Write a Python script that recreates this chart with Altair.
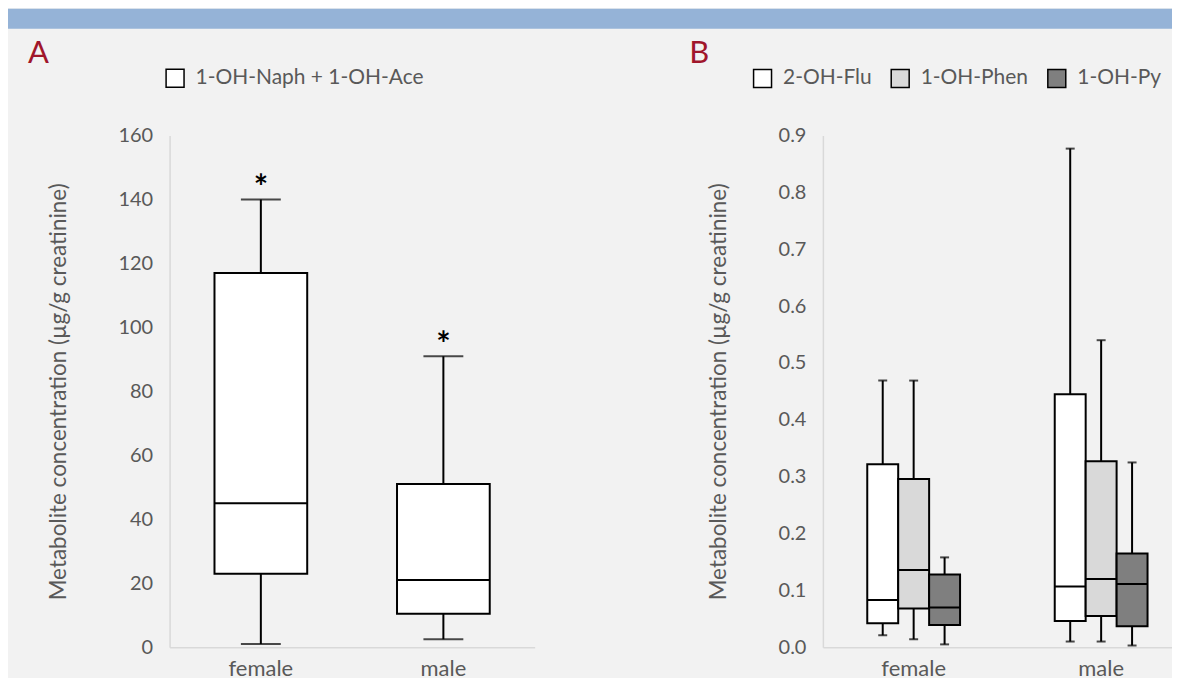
import altair as alt
import pandas as pd

FONT = "Lato"
TXT = "#595959"
AXC = "#d9d9d9"
RED = "#a0162b"

sexes = ["female", "male"]

a_series = ["1-OH-Naph + 1-OH-Ace"]
a_fill = ["#ffffff"]
a_min = [1.0, 2.5]
a_q1 = [23.0, 10.5]
a_med = [45.0, 21.0]
a_q3 = [117.0, 51.0]
a_max = [140.0, 91.0]
a_sig = ["*", "*"]
a_ticks = [0, 20, 40, 60, 80, 100, 120, 140, 160]

metabolites = ["2-OH-Flu", "1-OH-Phen", "1-OH-Py"]
b_fill = ["#ffffff", "#d9d9d9", "#7f7f7f"]
b_female_min = [0.021, 0.014, 0.005]
b_female_q1 = [0.042, 0.068, 0.039]
b_female_med = [0.083, 0.136, 0.070]
b_female_q3 = [0.322, 0.296, 0.128]
b_female_max = [0.469, 0.469, 0.158]
b_male_min = [0.010, 0.010, 0.003]
b_male_q1 = [0.046, 0.055, 0.037]
b_male_med = [0.107, 0.120, 0.111]
b_male_q3 = [0.445, 0.327, 0.165]
b_male_max = [0.877, 0.540, 0.325]
b_ticks = [0.0, 0.1, 0.2, 0.3, 0.4, 0.5, 0.6, 0.7, 0.8, 0.9]

y_title = "Metabolite concentration (µg/g creatinine)"

dfA = pd.DataFrame({
    "sex": sexes, "series": a_series * 2,
    "lo": a_min, "q1": a_q1, "med": a_med, "q3": a_q3, "hi": a_max, "sig": a_sig,
})

rows = []
for sex, mins, q1s, meds, q3s, maxs in [
    ("female", b_female_min, b_female_q1, b_female_med, b_female_q3, b_female_max),
    ("male", b_male_min, b_male_q1, b_male_med, b_male_q3, b_male_max),
]:
    for i, m in enumerate(metabolites):
        rows.append({"sex": sex, "met": m, "lo": mins[i], "q1": q1s[i],
                     "med": meds[i], "q3": q3s[i], "hi": maxs[i]})
dfB = pd.DataFrame(rows)


def y_axis(values, fmt):
    return alt.Axis(values=values, format=fmt, title=y_title, titleFont=FONT,
                    titleFontSize=22.5, titleColor=TXT, titleFontWeight="normal",
                    titlePadding=48, labelFont=FONT, labelFontSize=20, labelColor=TXT,
                    labelPadding=17, ticks=False, domain=True, domainColor=AXC,
                    domainWidth=1.5, grid=False)


x_axis = alt.Axis(title=None, labelAngle=0, labelFont=FONT, labelFontSize=22,
                  labelColor=TXT, labelPadding=11, ticks=False, domainColor=AXC,
                  domainWidth=1.5)


def legend(lx, ly):
    return alt.Legend(title=None, orient="none", legendX=lx, legendY=ly,
                      direction="horizontal", symbolType="square", symbolSize=324,
                      symbolStrokeColor="black", symbolStrokeWidth=1.5,
                      labelFont=FONT, labelFontSize=21, labelColor=TXT, labelLimit=0,
                      labelOffset=10, columnPadding=16, padding=0)


def panel_title(txt, dx):
    return alt.TitleParams(txt, anchor="start", frame="group", dx=dx, dy=2, fontSize=31,
                           font=FONT, color=RED, fontWeight="normal", offset=0)


# ---- Panel A ----
ysA = alt.Scale(domain=[0, 160], nice=False)
yaA = y_axis(a_ticks, "d")
xA = alt.X("sex:N", sort=sexes,
           scale=alt.Scale(domain=sexes, paddingInner=0.492, paddingOuter=0.246),
           axis=x_axis)
baseA = alt.Chart(dfA)
A = alt.layer(
    baseA.mark_rule(color="black", strokeWidth=2).encode(
        x=xA, y=alt.Y("lo:Q", scale=ysA, axis=yaA), y2="hi:Q"),
    baseA.mark_bar(stroke="black", strokeWidth=2).encode(
        x=xA, y=alt.Y("q1:Q", scale=ysA, axis=yaA), y2="q3:Q",
        fill=alt.Fill("series:N", scale=alt.Scale(domain=a_series, range=a_fill),
                      legend=legend(-5, -68))),
    baseA.mark_bar(stroke="black", strokeWidth=2, fillOpacity=0).encode(
        x=xA, y=alt.Y("med:Q", scale=ysA, axis=yaA), y2="med:Q"),
    baseA.mark_tick(color="black", size=40, thickness=2).encode(
        x=xA, y=alt.Y("hi:Q", scale=ysA, axis=yaA)),
    baseA.mark_tick(color="black", size=40, thickness=2).encode(
        x=xA, y=alt.Y("lo:Q", scale=ysA, axis=yaA)),
    baseA.mark_text(color="black", font=FONT, fontSize=34, fontWeight="bold",
                    baseline="alphabetic", dy=0).encode(
        x=xA, y=alt.Y("hi:Q", scale=ysA, axis=yaA), text="sig:N"),
).properties(width=366, height=513, title=panel_title("A", -142))

# ---- Panel B ----
ysB = alt.Scale(domain=[0, 0.9], nice=False)
yaB = y_axis(b_ticks, ".1f")
xB = alt.X("sex:N", sort=sexes,
           scale=alt.Scale(domain=sexes, paddingInner=0.505, paddingOuter=0.1995, align=0.593),
           axis=x_axis)
xo = alt.XOffset("met:N", sort=metabolites,
                 scale=alt.Scale(domain=metabolites, paddingInner=0, paddingOuter=0))
baseB = alt.Chart(dfB)
B = alt.layer(
    baseB.mark_rule(color="black", strokeWidth=2).encode(
        x=xB, xOffset=xo, y=alt.Y("lo:Q", scale=ysB, axis=yaB), y2="hi:Q"),
    baseB.mark_bar(stroke="black", strokeWidth=2).encode(
        x=xB, xOffset=xo, y=alt.Y("q1:Q", scale=ysB, axis=yaB), y2="q3:Q",
        fill=alt.Fill("met:N", scale=alt.Scale(domain=metabolites, range=b_fill),
                      sort=metabolites, legend=legend(-71, -68))),
    baseB.mark_bar(stroke="black", strokeWidth=2, fillOpacity=0).encode(
        x=xB, xOffset=xo, y=alt.Y("med:Q", scale=ysB, axis=yaB), y2="med:Q"),
    baseB.mark_tick(color="black", size=9, thickness=2).encode(
        x=xB, xOffset=xo, y=alt.Y("hi:Q", scale=ysB, axis=yaB)),
    baseB.mark_tick(color="black", size=9, thickness=2).encode(
        x=xB, xOffset=xo, y=alt.Y("lo:Q", scale=ysB, axis=yaB)),
).properties(width=356, height=513, title=panel_title("B", -134))

spacer_df = pd.DataFrame({"t": [""]})


def spacer(w, h=1):
    return alt.Chart(spacer_df).mark_text().encode(text="t:N").properties(width=w, height=h)


band = alt.Chart(spacer_df).mark_text().encode(text="t:N").properties(
    width=1180, height=20, view=alt.ViewBackground(fill="#95b3d7", stroke=None))

panels = alt.hconcat(spacer(20), A, spacer(155), B, spacing=0).resolve_scale(fill="independent")

chart = alt.vconcat(band, panels, spacing=9).properties(
    padding={"left": 0, "top": 0, "right": -13, "bottom": -2}).configure(
    background="#f2f2f2").configure_view(stroke=None)

chart.save("out.html", embed_options={"renderer": "svg", "actions": False})
